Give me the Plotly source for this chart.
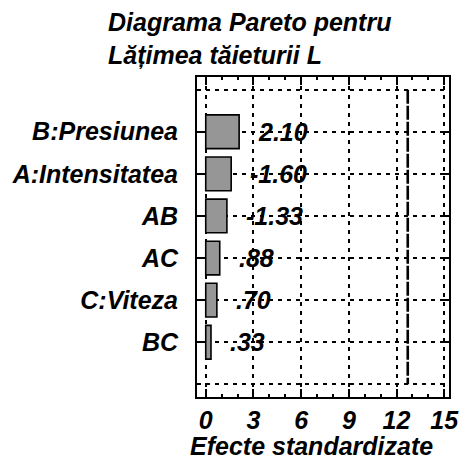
import plotly.graph_objects as go

factors = ["B:Presiunea", "A:Intensitatea", "AB", "AC", "C:Viteza", "BC"]
effects = [2.10, -1.60, -1.33, 0.88, 0.70, 0.33]
critical_value = 12.706
x_ticks = [0, 3, 6, 9, 12, 15]

positions = list(range(1, len(factors) + 1))
magnitudes = [abs(v) for v in effects]


def fmt(v):
    s = f"{v:.2f}"
    if s.startswith("0."):
        s = s[1:]
    elif s.startswith("-0."):
        s = "-" + s[2:]
    return s


FONT = dict(family="Liberation Sans, Arial, sans-serif", size=25, color="black",
            weight="bold", style="italic")

fig = go.Figure()
fig.add_trace(go.Bar(
    x=magnitudes, y=positions, orientation="h", width=0.8,
    marker=dict(color="#969696", line=dict(color="black", width=1.6)),
    hoverinfo="skip",
))

for p, v, m in zip(positions, effects, magnitudes):
    fig.add_annotation(x=m, y=p, text=fmt(v), showarrow=False, xanchor="left",
                       yanchor="middle", xshift=17, font=FONT)

fig.add_shape(type="line", x0=critical_value, x1=critical_value, y0=0, y1=len(factors) + 1,
              xref="x", yref="y", line=dict(color="black", width=2.6, dash="14px,2px"))

fig.add_annotation(text="Efecte standardizate", xref="paper", yref="paper",
                   x=-0.035, y=0, xanchor="left", yanchor="top", yshift=-33,
                   showarrow=False, font=FONT)

fig.add_annotation(text="Diagrama Pareto pentru<br>Lățimea tăieturii L", xref="paper",
                   yref="paper", x=(103 - 197) / 261, y=1 + (77 - 6) / 320,
                   xanchor="left", yanchor="top", align="left", showarrow=False,
                   font=FONT)

fig.update_layout(
    width=471, height=463,
    margin=dict(l=197, r=13, t=77, b=66),
    paper_bgcolor="white", plot_bgcolor="white",
    showlegend=False,
    xaxis=dict(
        range=[-0.55, 15.3], tickvals=x_ticks, ticktext=[str(t) for t in x_ticks],
        ticks="inside", ticklen=8, tickwidth=1.5, tickcolor="black",
        showline=True, linecolor="black", linewidth=2, mirror="ticks",
        showgrid=True, gridcolor="black", gridwidth=1.5, griddash="4px,5px",
        zeroline=False,
        tickfont=FONT, ticklabelstandoff=0,
        minor=dict(dtick=1, tick0=0, ticks="inside", ticklen=3, tickwidth=1.5,
                   tickcolor="black", showgrid=False),
    ),
    yaxis=dict(
        range=[len(factors) + 1.3, -0.3], tickvals=positions, ticktext=factors,
        ticks="inside", ticklen=9, tickwidth=1.5, tickcolor="black",
        showline=True, linecolor="black", linewidth=2, mirror="ticks",
        showgrid=True, gridcolor="black", gridwidth=1.5, griddash="4px,5px",
        zeroline=False, tickfont=FONT, ticklabelstandoff=12,
        minor=dict(dtick=1, tick0=0, ticks="", showgrid=True, gridcolor="black",
                   gridwidth=1.5, griddash="4px,5px"),
    ),
)

fig.write_html("out.html")
